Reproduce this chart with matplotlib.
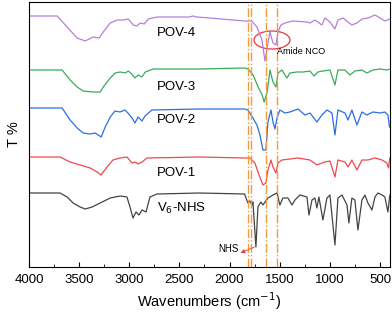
import matplotlib
matplotlib.use("Agg")
import matplotlib.pyplot as plt
from matplotlib.patches import Ellipse
from matplotlib.ticker import MultipleLocator

plt.rcParams['font.family'] = ['Liberation Sans', 'DejaVu Sans']

# ---- data (wavenumber, stacked transmittance, arbitrary units) ----
pov4_wn = [4000, 3720, 3620, 3520, 3440, 3360, 3300, 3260, 3190, 3120, 3060, 3010, 2960, 2925, 2890, 2850,
           2810, 2720, 2400, 2365, 2330, 2200, 1850, 1780, 1727, 1677, 1647, 1617, 1597, 1567, 1537, 1517,
           1488, 1448, 1368, 1228, 1198, 1149, 1079, 1049, 999, 949, 919, 869, 819, 780, 730, 680, 620, 550,
           500, 451, 401]
pov4_t = [251, 251, 240, 229, 226, 230, 229, 235, 244, 247, 247, 248, 242, 241, 244, 243,
          248, 250, 250, 251, 250, 249, 246, 246, 240, 227, 206, 224, 235, 224, 222, 235,
          242, 244, 246, 245, 244, 247, 242, 249, 245, 238, 247, 249, 245, 242, 244, 248, 249, 252,
          249, 246, 248]

pov3_wn = [4000, 3670, 3590, 3520, 3460, 3360, 3290, 3260, 3190, 3140, 3090, 3040, 3010, 2975, 2945, 2910,
           2875, 2840, 2760, 2300, 1850, 1815, 1765, 1715, 1675, 1655, 1625, 1597, 1567, 1537, 1517, 1478,
           1428, 1398, 1328, 1268, 1198, 1158, 1119, 1069, 999, 949, 919, 849, 800, 750, 680, 630, 570,
           500, 431, 401]
pov3_t = [197, 197, 187, 180, 176, 175, 175, 180, 189, 194, 195, 194, 196, 193, 189, 192,
          190, 195, 198, 198, 199, 198, 192, 180, 172, 165, 175, 197, 185, 180, 194, 197,
          189, 194, 195, 195, 196, 191, 195, 196, 197, 182, 197, 197, 192, 196, 197, 194, 197,
          198, 197, 198]

pov2_wn = [4000, 3670, 3590, 3520, 3460, 3390, 3340, 3280, 3240, 3190, 3143, 3093, 3043, 3013, 2973, 2943,
           2913, 2873, 2843, 2774, 2300, 1850, 1817, 1767, 1727, 1697, 1667, 1637, 1617, 1587, 1567, 1547,
           1527, 1498, 1448, 1398, 1318, 1248, 1198, 1129, 1079, 1029, 979, 949, 919, 849, 819, 780, 730,
           680, 630, 570, 500, 451, 421, 405]
pov2_t = [159, 159, 147, 139, 134, 133, 134, 130, 140, 150, 156, 155, 157, 154, 149, 144,
          150, 146, 151, 157, 158, 158, 157, 149, 142, 132, 117, 117, 145, 157, 145, 138,
          149, 157, 154, 155, 158, 152, 154, 145, 152, 157, 154, 132, 157, 154, 147, 157, 142,
          155, 152, 155, 154, 155, 152, 140]

pov1_wn = [4000, 3690, 3590, 3490, 3390, 3320, 3282, 3222, 3163, 3093, 3023, 2973, 2943, 2913, 2873, 2824,
           2300, 1850, 1797, 1747, 1717, 1667, 1637, 1617, 1587, 1567, 1537, 1517, 1478, 1398, 1318, 1198,
           1129, 1049, 999, 949, 919, 849, 819, 780, 730, 680, 620, 550, 480, 431, 415, 401]
pov1_t = [110, 110, 105, 102, 99, 95, 92, 100, 107, 109, 110, 104, 105, 103, 105, 109,
          110, 109, 109, 104, 95, 82, 84, 97, 107, 100, 94, 104, 107, 108, 109, 107,
          102, 105, 106, 90, 107, 105, 100, 107, 97, 107, 107, 109, 107, 104, 99, 109]

nhs_wn = [4000, 3690, 3620, 3560, 3490, 3440, 3370, 3290, 3190, 3090, 3023, 2993, 2963, 2933, 2903, 2873,
          2833, 2794, 2724, 2300, 1850, 1836, 1817, 1797, 1777, 1767, 1737, 1717, 1687, 1667, 1617, 1567,
          1527, 1498, 1468, 1418, 1378, 1348, 1298, 1228, 1208, 1178, 1149, 1129, 1109, 1069, 1029, 999,
          949, 919, 879, 829, 810, 780, 750, 720, 680, 650, 620, 580, 550, 520, 480, 451, 421, 401]
nhs_t = [74, 74, 70, 64, 60, 58, 60, 64, 69, 71, 70, 60, 49, 55, 52, 57,
         55, 70, 73, 74, 73, 69, 64, 66, 62, 65, 20, 60, 65, 62, 69, 72,
         74, 62, 69, 69, 62, 67, 72, 70, 52, 67, 69, 59, 70, 47, 69, 72,
         22, 69, 72, 62, 44, 69, 67, 37, 67, 72, 64, 57, 70, 74, 72, 70, 55, 72]

series_names = ['POV-4', 'POV-3', 'POV-2', 'POV-1', 'V$_6$-NHS']
series_wn = [pov4_wn, pov3_wn, pov2_wn, pov1_wn, nhs_wn]
series_t = [pov4_t, pov3_t, pov2_t, pov1_t, nhs_t]
label_y = [234, 180, 147, 94, 59]
colors = ['#b57edc', '#3caa5c', '#2b6fe0', '#f0484c', '#444444']

marker_lines = [1815, 1785, 1638, 1530]
xticks = [4000, 3500, 3000, 2500, 2000, 1500, 1000, 500]

fig = plt.figure(figsize=(3.92, 3.12), dpi=100)
ax = fig.add_axes([29/392, 45/312, 361/392, 265/312])

for wn, t, c in zip(series_wn, series_t, colors):
    ax.plot(wn, t, color=c, lw=0.9)

for name, y in zip(series_names, label_y):
    ax.text(2724, y, name, fontsize=9.5, ha='left', va='center')

for x in marker_lines:
    ax.axvline(x, color='#f59a3c', lw=1.0, ls='-.')

ax.add_patch(Ellipse((1577, 227), 359, 18, fill=False, edgecolor='#e8363a', lw=0.9))
ax.text(1530, 216, 'Amide NCO', fontsize=6.5, ha='left', va='center')

ax.annotate('', xy=(1916, 13), xytext=(1727, 21),
            arrowprops=dict(arrowstyle='-|>', color='#e03a3a', lw=0.6, mutation_scale=6))
ax.text(2015, 18, 'NHS', fontsize=7, ha='center', va='center')

ax.set_xlim(4000, 400)
ax.set_ylim(0, 265)
ax.set_xticks(xticks)
ax.xaxis.set_minor_locator(MultipleLocator(250))
ax.tick_params(axis='x', which='both', direction='in', labelsize=9.5, top=False, pad=5)
ax.tick_params(axis='x', which='major', length=3.5)
ax.tick_params(axis='x', which='minor', length=2)
ax.set_yticks([])
ax.set_xlabel('Wavenumbers (cm$^{-1}$)', fontsize=10.5, labelpad=3)
ax.set_ylabel('T %', fontsize=10.5, labelpad=6)

fig.savefig('out.png', dpi=100)
